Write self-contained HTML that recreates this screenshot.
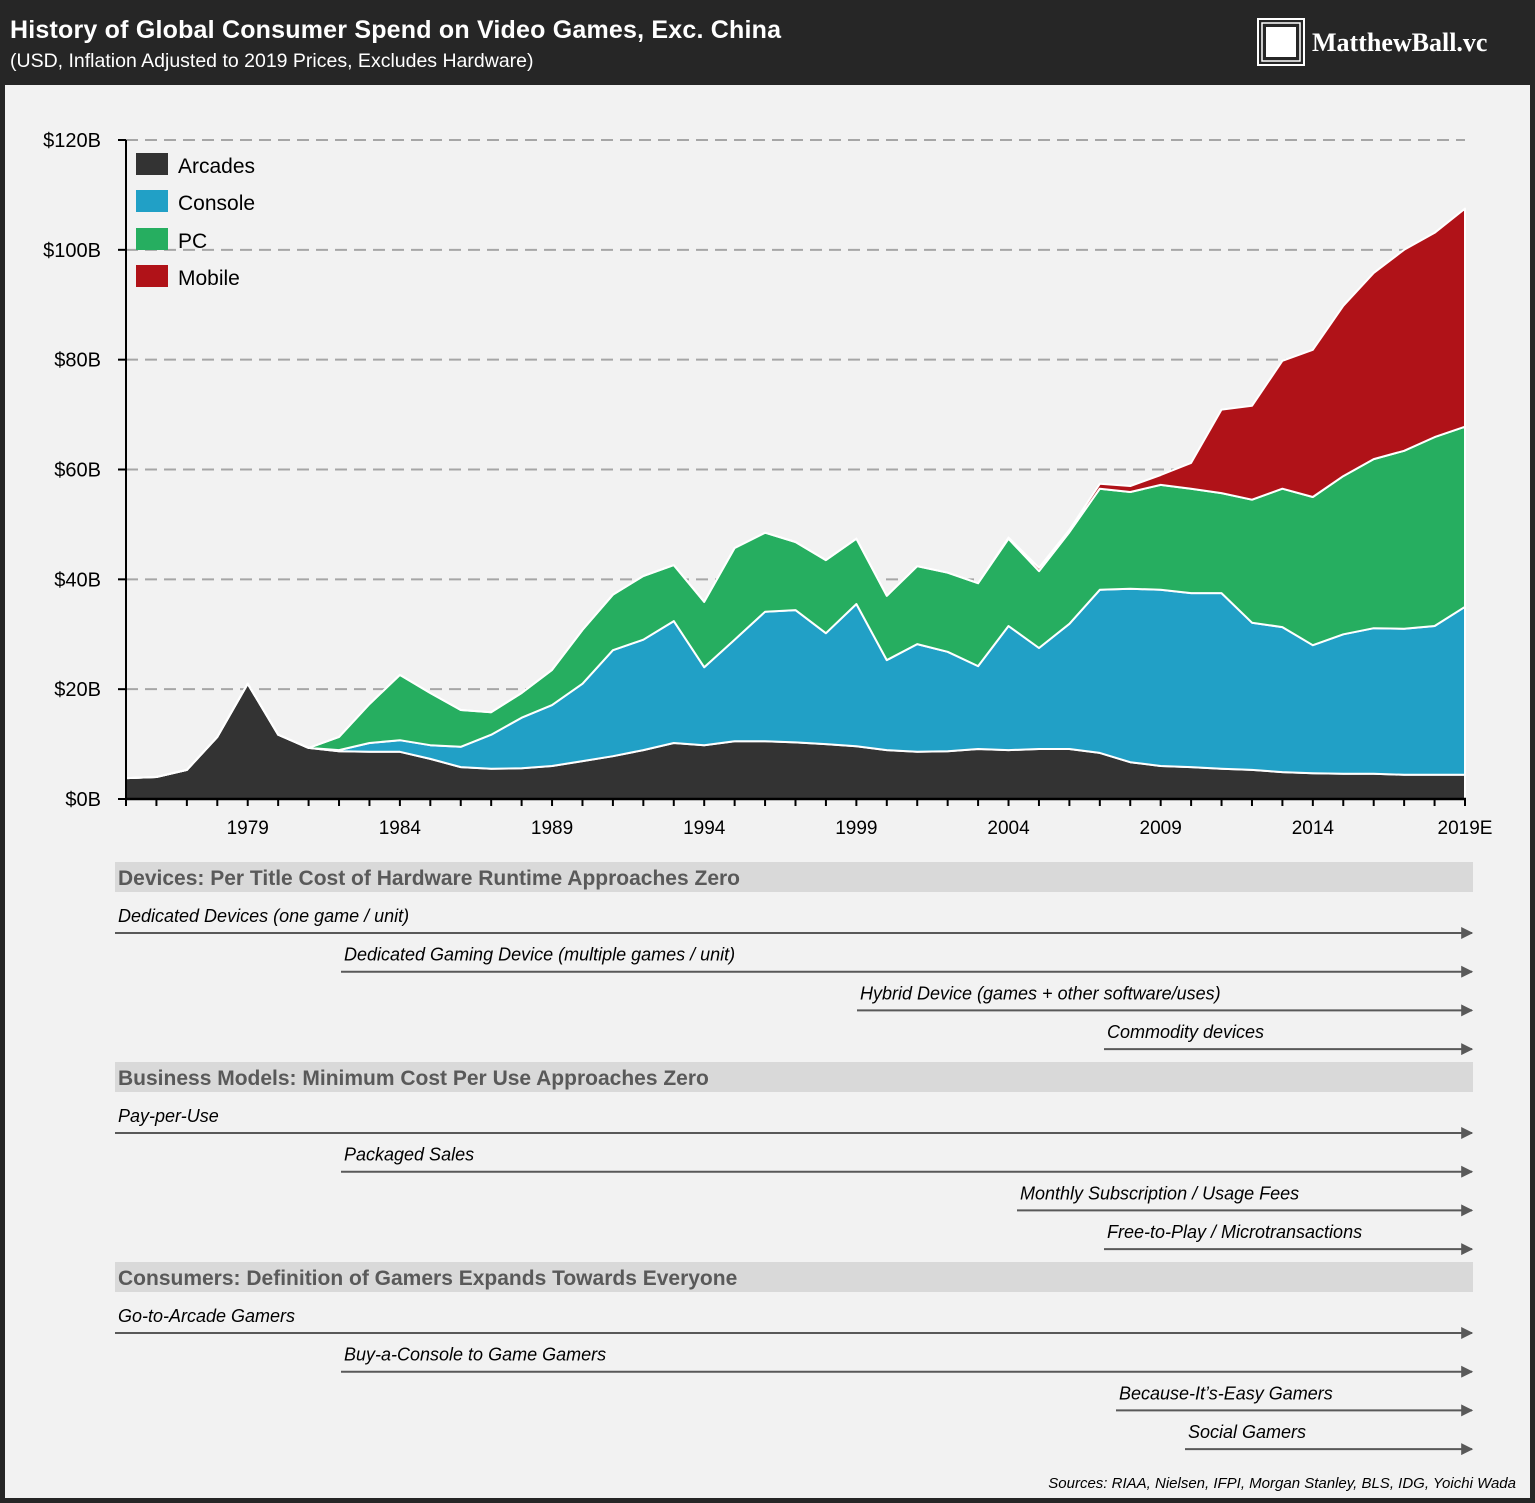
<!DOCTYPE html>
<html><head><meta charset="utf-8"><style>
html,body{margin:0;padding:0;background:#262626;}
svg{display:block;font-family:"Liberation Sans",sans-serif;}
</style></head><body>
<svg id="root" width="1535" height="1503" viewBox="0 0 1535 1503" xmlns="http://www.w3.org/2000/svg">
<rect x="0" y="0" width="1535" height="1503" fill="#262626"/>
<rect x="5" y="85" width="1525" height="1413" fill="#f2f2f2"/>
<text x="10" y="38" fill="#ffffff" font-size="25" font-weight="bold" letter-spacing="0.2">History of Global Consumer Spend on Video Games, Exc. China</text>
<text x="10" y="67" fill="#ffffff" font-size="19.5">(USD, Inflation Adjusted to 2019 Prices, Excludes Hardware)</text>
<g>
<rect x="1258" y="19" width="46" height="46" fill="none" stroke="#fff" stroke-width="2"/>
<rect x="1262" y="23" width="38" height="38" fill="none" stroke="#fff" stroke-width="1.5"/>
<rect x="1266" y="27" width="30" height="30" fill="#fff"/>
<text x="1312" y="51" fill="#fff" font-size="26" font-weight="bold" font-family="Liberation Serif, serif">MatthewBall.vc</text>
</g>
<g id="grid"></g>
<g id="areas"></g>
<g id="axes"></g>
<g>
<rect x="136" y="153" width="32" height="22" fill="#333333"/>
<text x="178" y="173" font-size="21" fill="#000">Arcades</text>
<rect x="136" y="190" width="32" height="22" fill="#21a0c6"/>
<text x="178" y="210" font-size="21" fill="#000">Console</text>
<rect x="136" y="228" width="32" height="22" fill="#26ae60"/>
<text x="178" y="248" font-size="21" fill="#000">PC</text>
<rect x="136" y="265" width="32" height="22" fill="#b01218"/>
<text x="178" y="285" font-size="21" fill="#000">Mobile</text>
</g>
<defs><marker id="ah" viewBox="0 0 10 10" refX="9" refY="5" markerWidth="14" markerHeight="12" markerUnits="userSpaceOnUse" orient="auto"><path d="M0,0L10,5L0,10z" fill="#595959"/></marker></defs>
<g id="timeline"></g>
<text x="1516" y="1488" text-anchor="end" font-size="15" font-style="italic" fill="#000">Sources: RIAA, Nielsen, IFPI, Morgan Stanley, BLS, IDG, Yoichi Wada</text>
</svg>
<script>
const years = [];
for (let y = 1975; y <= 2019; y++) years.push(y);
const arcades = [3.8,4.0,5.3,11.3,21,11.7,9.3,8.7,8.6,8.6,7.3,5.8,5.5,5.6,6.0,6.9,7.8,8.9,10.2,9.8,10.5,10.5,10.3,10.0,9.6,8.9,8.6,8.7,9.1,8.9,9.1,9.1,8.4,6.7,6.0,5.8,5.5,5.3,4.9,4.7,4.6,4.6,4.4,4.4,4.4];
const consoleVals = [0,0,0,0,0,0,0,0.2,1.6,2.1,2.5,3.7,6.2,9.2,11.1,14.1,19.3,20.1,22.2,14.2,18.5,23.6,24.1,20.2,25.9,16.4,19.6,18.1,15.1,22.6,18.4,22.8,29.7,31.6,32.1,31.7,32,26.8,26.4,23.3,25.4,26.5,26.6,27.1,30.6];
const pcVals = [0,0,0,0,0,0,0,2.4,7.1,11.9,9.5,6.7,4.1,4.5,6.4,9.8,10.1,11.6,10.2,11.9,16.7,14.4,12.4,13.3,11.9,11.7,14.2,14.4,15.1,15.9,14,16.7,18.4,17.6,19.1,19,18.2,22.4,25.2,27,28.8,30.8,32.4,34.4,32.8];
const mobileVals = [0,0,0,0,0,0,0,0,0,0,0,0,0,0,0,0,0,0,0,0,0,0,0,0,0,0,0,0,0,0.2,0.6,0.4,0.9,1.1,1.8,4.7,15.2,17.1,23.3,26.8,31,33.9,36.6,37.2,39.7];
const yTicks = [0,20,40,60,80,100,120];
const yTickLabels = ["$0B","$20B","$40B","$60B","$80B","$100B","$120B"];
const xLabelYears = [1979,1984,1989,1994,1999,2004,2009,2014,2019];
const xLabelText = ["1979","1984","1989","1994","1999","2004","2009","2014","2019E"];

const NS = "http://www.w3.org/2000/svg";
const X0 = 126, X1 = 1465, Y0 = 799, Y1 = 140;
const xs = y => X0 + (y - years[0]) / (years[years.length-1] - years[0]) * (X1 - X0);
const ys = v => Y0 - v / 120 * (Y0 - Y1);
function mk(tag, attrs, parent) {
  const e = document.createElementNS(NS, tag);
  for (const k in attrs) e.setAttribute(k, attrs[k]);
  parent.appendChild(e);
  return e;
}
const grid = document.getElementById('grid');
yTicks.forEach((t, i) => {
  if (t > 0) {
    const l = mk('line', {x1: X0, x2: X1, y1: ys(t), y2: ys(t), stroke: '#a6a6a6', 'stroke-width': 2, 'stroke-dasharray': '12,7'}, grid);
    
    
  }
});
const areas = document.getElementById('areas');
const series = [arcades, consoleVals, pcVals, mobileVals];
const colors = ['#333333', '#21a0c6', '#26ae60', '#b01218'];
const names = ['area-arcades', 'area-console', 'area-pc', 'area-mobile'];
let base = years.map(() => 0);
series.forEach((s, si) => {
  const top = base.map((b, i) => b + s[i]);
  let d = '';
  years.forEach((y, i) => { d += (i ? 'L' : 'M') + xs(y).toFixed(1) + ',' + ys(top[i]).toFixed(1); });
  for (let i = years.length - 1; i >= 0; i--) d += 'L' + xs(years[i]).toFixed(1) + ',' + ys(base[i]).toFixed(1);
  d += 'Z';
  const p = mk('path', {d: d, fill: colors[si], stroke: '#ffffff', 'stroke-width': 2, 'stroke-linejoin': 'round'}, areas);
  
  
  base = top;
});
const axes = document.getElementById('axes');
const ya = mk('line', {x1: X0, x2: X0, y1: Y1, y2: Y0, stroke: '#000', 'stroke-width': 2}, axes);


const xa = mk('line', {x1: X0 - 1, x2: X1 + 1, y1: Y0, y2: Y0, stroke: '#000', 'stroke-width': 2.5}, axes);


yTicks.forEach((t, i) => {
  const tk = mk('line', {x1: X0 - 8, x2: X0, y1: ys(t), y2: ys(t), stroke: '#000', 'stroke-width': 2}, axes);
  
  
  const tx = mk('text', {x: 101, y: ys(t) + 7, 'text-anchor': 'end', 'font-size': 20, fill: '#000'}, axes);
  tx.textContent = yTickLabels[i];
  
  
});
years.forEach(y => {
  const tk = mk('line', {x1: xs(y), x2: xs(y), y1: Y0, y2: Y0 + 7, stroke: '#000', 'stroke-width': 2}, axes);
  
  
});
xLabelYears.forEach((y, i) => {
  const tx = mk('text', {x: xs(y), y: 834, 'text-anchor': 'middle', 'font-size': 19, fill: '#000'}, axes);
  tx.textContent = xLabelText[i];
  
  
});
const tl = document.getElementById('timeline');
const sections = [
  {y: 862, title: 'Devices: Per Title Cost of Hardware Runtime Approaches Zero', rows: [[115, 'Dedicated Devices (one game / unit)'], [341, 'Dedicated Gaming Device (multiple games / unit)'], [857, 'Hybrid Device (games + other software/uses)'], [1104, 'Commodity devices']]},
  {y: 1062, title: 'Business Models: Minimum Cost Per Use Approaches Zero', rows: [[115, 'Pay-per-Use'], [341, 'Packaged Sales'], [1017, 'Monthly Subscription / Usage Fees'], [1104, 'Free-to-Play / Microtransactions']]},
  {y: 1262, title: 'Consumers: Definition of Gamers Expands Towards Everyone', rows: [[115, 'Go-to-Arcade Gamers'], [341, 'Buy-a-Console to Game Gamers'], [1116, 'Because-It\u2019s-Easy Gamers'], [1185, 'Social Gamers']]}
];
sections.forEach(sec => {
  const r = mk('rect', {x: 115, y: sec.y, width: 1358, height: 30, fill: '#d9d9d9'}, tl);
  
  
  const t = mk('text', {x: 118, y: sec.y + 23, 'font-size': 21, 'font-weight': 'bold', fill: '#595959'}, tl);
  t.textContent = sec.title;
  
  
  sec.rows.forEach((row, i) => {
    const ly = sec.y + 71 + i * 38.7;
    const tx = mk('text', {x: row[0] + 3, y: ly - 11, 'font-size': 18, 'font-style': 'italic', fill: '#000'}, tl);
    tx.textContent = row[1];
    
    
    const ln = mk('line', {x1: row[0], x2: 1472, y1: ly, y2: ly, stroke: '#595959', 'stroke-width': 2, 'marker-end': 'url(#ah)'}, tl);
    
    
  });
});
</script>
</body></html>
